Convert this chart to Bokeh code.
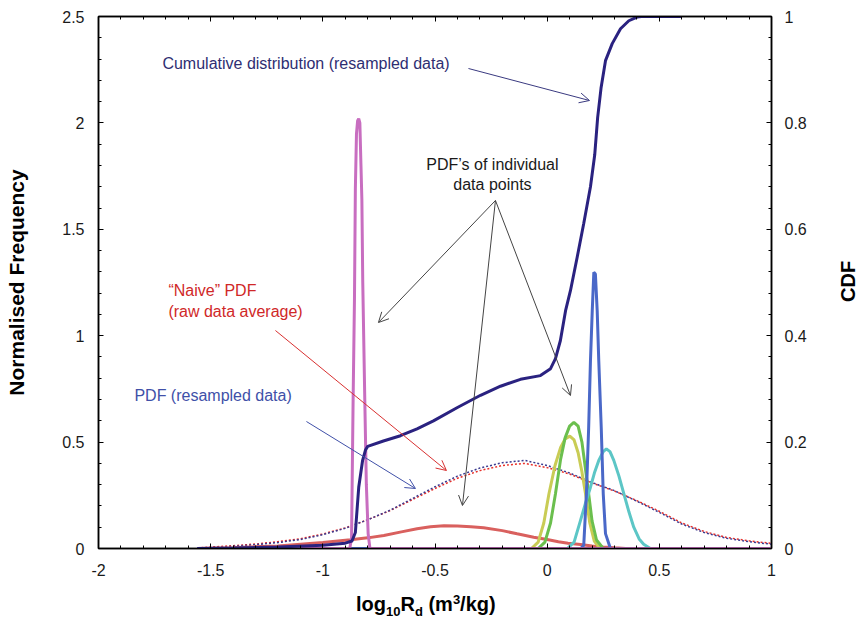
import math
from bokeh.plotting import figure
from bokeh.layouts import column, row
from bokeh.models import (Range1d, LinearAxis, SingleIntervalTicker, CustomJSTickFormatter,
                          Label, Arrow, OpenHead, Div)
from bokeh.embed import file_html
from bokeh.resources import INLINE

# ---------------- data ----------------
x_cdf = [-1.56, -1.4, -1.2, -1.0, -0.9, -0.87, -0.855, -0.84, -0.823, -0.81, -0.80, -0.73, -0.654,
         -0.58, -0.507, -0.4, -0.297, -0.208, -0.119, -0.03, 0.015, 0.037, 0.059, 0.082, 0.104,
         0.134, 0.163, 0.193, 0.212, 0.225, 0.24, 0.26, 0.29, 0.327, 0.364, 0.401, 0.42, 0.6]
cdf = [0.0, 0.001, 0.003, 0.006, 0.01, 0.014, 0.03, 0.115, 0.165, 0.185, 0.192, 0.202, 0.212,
       0.225, 0.24, 0.265, 0.288, 0.305, 0.318, 0.325, 0.338, 0.357, 0.391, 0.447, 0.485,
       0.548, 0.611, 0.68, 0.74, 0.81, 0.865, 0.917, 0.949, 0.977, 0.992, 0.999, 1.0, 1.0]

x_pink = [-1.56, -0.88, -0.872, -0.865, -0.859, -0.855, -0.850, -0.845, -0.840, -0.835, -0.830,
          -0.826, -0.822, -0.813, -0.806, -0.798, -0.79, 1.0]
pink = [0, 0, 0.05, 0.7, 1.17, 1.69, 1.95, 2.01, 2.02, 2.0, 1.8, 1.64, 1.25, 0.7, 0.3, 0.07, 0, 0]

x_blue = [-1.56, 0.15, 0.163, 0.175, 0.185, 0.193, 0.201, 0.208, 0.215, 0.223, 0.230, 0.241,
          0.250, 0.260, 0.282, 1.0]
blue = [0, 0, 0.015, 0.257, 0.57, 0.883, 1.118, 1.298, 1.29, 1.118, 0.883, 0.57, 0.257, 0.07, 0, 0]

x_green = [-1.56, -0.04, -0.01, 0.015, 0.037, 0.06, 0.08, 0.1, 0.119, 0.138, 0.155, 0.17, 0.185,
           0.2, 0.22, 0.25, 1.0]
green = [0, 0, 0.03, 0.12, 0.257, 0.42, 0.52, 0.575, 0.593, 0.575, 0.5, 0.38, 0.257, 0.13, 0.04, 0, 0]

x_yellow = [-1.56, -0.07, -0.04, -0.015, 0.008, 0.035, 0.06, 0.08, 0.101, 0.12, 0.138, 0.155,
            0.171, 0.19, 0.21, 0.235, 1.0]
yellow = [0, 0, 0.03, 0.12, 0.257, 0.39, 0.475, 0.515, 0.528, 0.51, 0.45, 0.36, 0.257, 0.12, 0.035, 0, 0]

x_cyan = [-1.56, 0.09, 0.12, 0.148, 0.17, 0.193, 0.212, 0.23, 0.25, 0.264, 0.28, 0.297, 0.32,
          0.342, 0.365, 0.386, 0.41, 0.43, 0.46, 1.0]
cyan = [0, 0, 0.03, 0.13, 0.21, 0.288, 0.36, 0.414, 0.455, 0.468, 0.455, 0.414, 0.34, 0.257,
        0.17, 0.1, 0.045, 0.02, 0, 0]

x_red = [-1.56, -1.4, -1.2, -1.0, -0.877, -0.8, -0.728, -0.65, -0.58, -0.52, -0.46, -0.4, -0.34,
         -0.283, -0.2, -0.134, -0.06, 0.0, 0.05, 0.093, 0.149, 0.2, 0.25, 0.3, 0.35, 1.0]
red = [0.0, 0.004, 0.012, 0.028, 0.041, 0.05, 0.061, 0.078, 0.093, 0.102, 0.107, 0.106, 0.102,
       0.097, 0.084, 0.069, 0.053, 0.042, 0.032, 0.025, 0.019, 0.012, 0.007, 0.003, 0.0, 0.0]

x_dot = [-1.56, -1.5, -1.4, -1.3, -1.2, -1.1, -1.0, -0.9, -0.8, -0.7, -0.6, -0.5, -0.4, -0.3,
         -0.2, -0.1, 0.0, 0.1, 0.2, 0.3, 0.4, 0.5, 0.6, 0.7, 0.8, 0.9, 1.0]
pdf_resampled = [0.0, 0.004, 0.01, 0.018, 0.028, 0.042, 0.065, 0.095, 0.135, 0.18, 0.235, 0.29,
                 0.34, 0.378, 0.403, 0.414, 0.39, 0.355, 0.31, 0.272, 0.222, 0.17, 0.115, 0.075,
                 0.048, 0.032, 0.02]
pdf_naive = [0.002, 0.007, 0.013, 0.021, 0.032, 0.046, 0.068, 0.097, 0.135, 0.178, 0.23, 0.282,
             0.33, 0.366, 0.39, 0.40, 0.38, 0.35, 0.308, 0.27, 0.225, 0.175, 0.12, 0.08, 0.052,
             0.036, 0.024]

# ---------------- figure ----------------
FONT = "Liberation Sans"
p = figure(width=836, height=590, output_backend="svg", toolbar_location=None,
           x_range=Range1d(-2, 1), y_range=Range1d(0, 2.5),
           min_border_left=98, min_border_right=65, min_border_top=16, min_border_bottom=42)
p.extra_y_ranges = {"cdf": Range1d(0, 1)}
p.xgrid.visible = False
p.ygrid.visible = False
p.outline_line_color = "black"
p.outline_line_width = 1.5
p.background_fill_color = "white"
p.border_fill_color = "white"

fmt = CustomJSTickFormatter(code="return Number(tick.toFixed(3)).toString();")


def style_axis(ax, interval, standoff=13):
    ax.ticker = SingleIntervalTicker(interval=interval, num_minor_ticks=5)
    ax.formatter = fmt
    ax.axis_line_color = "black"
    ax.axis_line_width = 1.5
    ax.major_tick_in = 5
    ax.major_tick_out = 0
    ax.minor_tick_in = 3
    ax.minor_tick_out = 0
    ax.major_tick_line_color = "black"
    ax.minor_tick_line_color = "black"
    ax.major_label_text_font = FONT
    ax.major_label_text_font_size = "16px"
    ax.major_label_text_color = "#1a1a1a"
    ax.major_label_standoff = standoff


xa = p.xaxis[0]
style_axis(xa, 0.5, standoff=15)
ya = p.yaxis[0]
style_axis(ya, 0.5, standoff=14)
ya.axis_label = "Normalised Frequency"
ya.axis_label_text_font = FONT
ya.axis_label_text_font_style = "bold"
ya.axis_label_text_font_size = "21px"
ya.axis_label_text_color = "black"
ya.axis_label_standoff = 31

ra = LinearAxis(y_range_name="cdf")
style_axis(ra, 0.2, standoff=13)
p.add_layout(ra, "right")

ta = LinearAxis()
style_axis(ta, 0.5, standoff=0)
ta.formatter = CustomJSTickFormatter(code="return '';")
p.add_layout(ta, "above")

# ---------------- curves ----------------
p.line(x_dot, pdf_naive, line_color="#E8302A", line_width=1.5, line_dash="2 2")
p.line(x_dot, pdf_resampled, line_color="#3A3A90", line_width=1.5, line_dash="2 2")
p.line(x_red, red, line_color="#D9605E", line_width=3)
p.line(x_yellow, yellow, line_color="#C9CC55", line_width=3)
p.line(x_green, green, line_color="#6BBF4E", line_width=3)
p.line(x_cyan, cyan, line_color="#5CC6C6", line_width=3)
p.line(x_blue, blue, line_color="#4A68C8", line_width=3)
p.line(x_pink, pink, line_color="#C86EC0", line_width=3)
p.line(x_cdf, cdf, line_color="#2A2280", line_width=3, y_range_name="cdf")

# ---------------- annotations ----------------
# helpers that map picture pixels to data coordinates of the left axis
def dx(px):
    return (px - 546.7) / 224.3


def dy(py):
    return (548.0 - py) / 212.8


def add_text(px, py, text, color, align="left"):
    p.add_layout(Label(x=dx(px), y=dy(py), text=text, text_color=color, text_font=FONT,
                       text_font_size="16px", text_align=align, text_baseline="middle"))


def add_arrow(x0, y0, x1, y1, color):
    p.add_layout(Arrow(end=OpenHead(size=10, line_color=color, line_width=1),
                       x_start=dx(x0), y_start=dy(y0), x_end=dx(x1), y_end=dy(y1),
                       line_color=color, line_width=1))


navy = "#2E2E72"
add_text(162, 63, "Cumulative distribution (resampled data)", navy)
add_arrow(468, 68, 589, 100, "#3A3A80")

add_text(492, 164, "PDF\u2019s of individual", "#1a1a1a", align="center")
add_text(492, 184, "data points", "#1a1a1a", align="center")
add_arrow(495, 200, 378, 322, "#444444")
add_arrow(495, 200, 462, 505, "#444444")
add_arrow(495, 200, 570, 395, "#444444")

add_text(168, 290, "\u201cNaive\u201d PDF", "#D02828")
add_text(168, 311, "(raw data average)", "#D02828")
add_arrow(275, 330, 446, 470, "#D83030")

add_text(134, 395, "PDF (resampled data)", "#4050A8")
add_arrow(306, 421, 415, 488, "#4050A8")

# right axis title "CDF" (reads bottom-to-top), as HTML text beside the plot
cdf_title = Div(
    text=('<div style="position:relative;width:24px;height:590px;">'
          '<span style="position:absolute;left:1px;top:260px;width:23px;height:42px;'
          'writing-mode:vertical-rl;transform:rotate(180deg);text-align:center;'
          'line-height:23px;white-space:nowrap;'
          'font-family:\'Liberation Sans\';font-weight:bold;font-size:20px;color:black;">'
          'CDF</span></div>'),
    width=24, height=590, margin=(0, 0, 0, 0))

# x axis title with sub/superscripts (HTML text below the plot)
xlabel = Div(
    text=('<div style="position:relative;width:860px;height:43px;">'
          '<span style="position:absolute;left:356px;top:0px;white-space:nowrap;'
          'font-family:\'Liberation Sans\';font-weight:bold;font-size:20px;color:black;">'
          'log<span style="font-size:13px;position:relative;top:5px;">10</span>'
          'R<span style="font-size:13px;position:relative;top:5px;">d</span>'
          ' (m<span style="font-size:13px;position:relative;top:-7px;">3</span>/kg)'
          '</span></div>'),
    width=860, height=43, margin=(0, 0, 0, 0))

layout = column(row(p, cdf_title, spacing=0), xlabel, spacing=0)
open("out.html", "w").write(file_html(layout, INLINE))
